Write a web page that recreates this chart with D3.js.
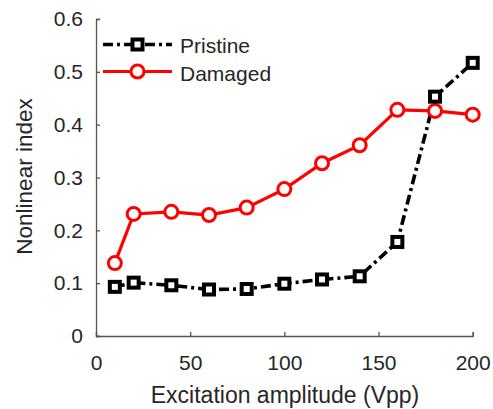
<!DOCTYPE html>
<html>
<head>
<meta charset="utf-8">
<script src="https://cdn.jsdelivr.net/npm/d3@7"></script>
<style>
  html, body { margin: 0; padding: 0; background: #fff; }
  svg text { font-family: "Liberation Sans", Arial, sans-serif; fill: #262626; }
</style>
</head>
<body>
<svg id="chart" width="493" height="409"></svg>
<script>
// Excitation amplitudes (Vpp)
const amplitudes = [10, 20, 40, 60, 80, 100, 120, 140, 160, 180, 200];
// Nonlinear index, pristine specimen
const pristine = [0.093, 0.101, 0.096, 0.088, 0.089, 0.099, 0.107, 0.113, 0.178, 0.453, 0.517];
// Nonlinear index, damaged specimen
const damaged = [0.138, 0.231, 0.235, 0.229, 0.243, 0.278, 0.327, 0.361, 0.428, 0.426, 0.419];
const xTicks = [0, 50, 100, 150, 200];
const yTicks = [0, 0.1, 0.2, 0.3, 0.4, 0.5, 0.6];

const svg = d3.select("#chart");
const margin = { left: 96, right: 20.3, top: 19, bottom: 73 };
const W = 493, H = 409;

const x = d3.scaleLinear().domain([0, 200]).range([margin.left, W - margin.right]);
const y = d3.scaleLinear().domain([0, 0.6]).range([H - margin.bottom, margin.top]);

const axisColor = "#555";
const tickFont = 21;

// Axes with inward ticks
const xAxis = svg.append("g")
  .attr("transform", `translate(0,${y(0)})`)
  .call(d3.axisBottom(x).tickValues(xTicks).tickSize(-4).tickFormat(d3.format("d")));
const yAxis = svg.append("g")
  .attr("transform", `translate(${x(0)},0)`)
  .call(d3.axisLeft(y).tickValues(yTicks).tickSize(-4).tickPadding(13)
    .tickFormat(d => d === 0 ? "0" : d3.format(".1f")(d)));

[xAxis, yAxis].forEach(g => {
  g.select(".domain").attr("stroke", axisColor).attr("stroke-width", 1.3);
  g.selectAll(".tick line").attr("stroke", axisColor).attr("stroke-width", 1.3);
  g.selectAll(".tick text").attr("font-size", tickFont).style("fill", "#262626");
});
xAxis.selectAll(".tick text").attr("y", 34).attr("dy", 0);

// Axis titles
svg.append("text")
  .attr("x", 285)
  .attr("y", 403)
  .attr("text-anchor", "middle")
  .attr("font-size", 23)
  .text("Excitation amplitude (Vpp)");
svg.append("text")
  .attr("transform", `translate(32,176.5) rotate(-90)`)
  .attr("text-anchor", "middle")
  .attr("font-size", 22.5)
  .text("Nonlinear index");

const line = d3.line().x((d, i) => x(amplitudes[i])).y(d => y(d));

// Damaged series
svg.append("path")
  .datum(damaged)
  .attr("d", line)
  .attr("fill", "none")
  .attr("stroke", "#ff0000")
  .attr("stroke-width", 3.2);

// Pristine series
svg.append("path")
  .datum(pristine)
  .attr("d", line)
  .attr("fill", "none")
  .attr("stroke", "#000")
  .attr("stroke-width", 3.6)
  .attr("stroke-dasharray", "10,4,3,4");

svg.append("g").selectAll("circle")
  .data(damaged)
  .join("circle")
  .attr("cx", (d, i) => x(amplitudes[i]))
  .attr("cy", d => y(d))
  .attr("r", 6.5)
  .attr("fill", "#fff")
  .attr("stroke", "#ff0000")
  .attr("stroke-width", 3);

const sq = 10;
svg.append("g").selectAll("rect")
  .data(pristine)
  .join("rect")
  .attr("x", (d, i) => x(amplitudes[i]) - sq / 2)
  .attr("y", d => y(d) - sq / 2)
  .attr("width", sq)
  .attr("height", sq)
  .attr("fill", "#fff")
  .attr("stroke", "#000")
  .attr("stroke-width", 4);

// Legend
const legend = svg.append("g");
const lx1 = 103, lx2 = 172, lmid = (lx1 + lx2) / 2;
legend.append("line")
  .attr("x1", lx1).attr("x2", lx2).attr("y1", 44.5).attr("y2", 44.5)
  .attr("stroke", "#000").attr("stroke-width", 3.6).attr("stroke-dasharray", "10,4,3,4");
legend.append("rect")
  .attr("x", lmid - sq / 2).attr("y", 44.5 - sq / 2).attr("width", sq).attr("height", sq)
  .attr("fill", "#fff").attr("stroke", "#000").attr("stroke-width", 4);
legend.append("text").attr("x", 180).attr("y", 45.5).attr("dy", "0.36em")
  .attr("font-size", 21).text("Pristine");

legend.append("line")
  .attr("x1", lx1).attr("x2", lx2).attr("y1", 71.5).attr("y2", 71.5)
  .attr("stroke", "#ff0000").attr("stroke-width", 3.2);
legend.append("circle")
  .attr("cx", lmid).attr("cy", 71.5).attr("r", 6.5)
  .attr("fill", "#fff").attr("stroke", "#ff0000").attr("stroke-width", 3);
legend.append("text").attr("x", 180).attr("y", 73.5).attr("dy", "0.36em")
  .attr("font-size", 21).text("Damaged");
</script>
</body>
</html>
